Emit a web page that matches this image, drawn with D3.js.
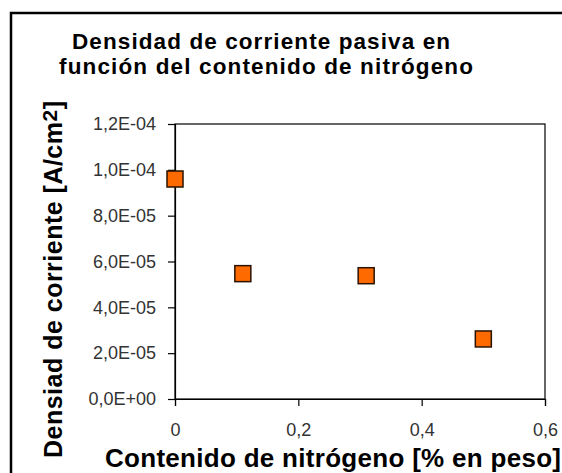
<!DOCTYPE html>
<html>
<head>
<meta charset="utf-8">
<script src="https://cdn.jsdelivr.net/npm/d3@7"></script>
<style>
  html, body { margin: 0; padding: 0; background: #fff; }
  text { font-family: "Liberation Sans", Arial, sans-serif; }
</style>
</head>
<body>
<div id="graph"></div>
<script>
// data
const nitrogen = [0, 0.11, 0.31, 0.5];
const density = [9.6e-5, 5.47e-5, 5.38e-5, 2.62e-5];
const xTicks = [0, 0.2, 0.4, 0.6];
const yTicks = [0, 2e-5, 4e-5, 6e-5, 8e-5, 1e-4, 1.2e-4];
const titleLines = ["Densidad de corriente pasiva en", "función del contenido de nitrógeno"];

window.addEventListener("DOMContentLoaded", main)

function main() {
    const W = 562, H = 473;
    const svg = d3.select("#graph").append("svg").attr("width", W).attr("height", H)

    // outer chart frame (runs off right and bottom)
    svg.append("rect")
        .attr("x", 11).attr("y", 13)
        .attr("width", W + 10).attr("height", H + 10)
        .attr("fill", "none").attr("stroke", "#000").attr("stroke-width", 2.5)

    const x = d3.scaleLinear().domain([0, 0.6]).range([175, 545]);
    const y = d3.scaleLinear().domain([0, 1.2e-4]).range([399, 124]);

    // plot area border
    svg.append("rect")
        .attr("x", x(0)).attr("y", y(1.2e-4))
        .attr("width", x(0.6) - x(0)).attr("height", y(0) - y(1.2e-4))
        .attr("fill", "none").attr("stroke", "#000").attr("stroke-width", 1.2)

    const fmtY = d => d === 0 ? "0,0E+00" : d3.format(".1e")(d)
        .replace(".", ",").replace(/e([+-])(\d)$/, "E$10$2").replace(/e/, "E");

    const yAxis = d3.axisLeft(y).tickValues(yTicks).tickSize(7).tickPadding(12).tickFormat(fmtY);
    const gy = svg.append("g").attr("transform", "translate(" + x(0) + ",0)").call(yAxis);

    const xAxis = d3.axisBottom(x).tickValues(xTicks).tickSize(7).tickPadding(17)
        .tickFormat(d => String(d).replace(".", ","));
    const gx = svg.append("g").attr("transform", "translate(0," + y(0) + ")").call(xAxis);

    [gx, gy].forEach(g => {
        g.select(".domain").attr("stroke", "#000").attr("stroke-width", 1.2);
        g.selectAll(".tick line").attr("stroke", "#000").attr("stroke-width", 1.2);
        g.selectAll(".tick text").attr("fill", "#333")
            .style("font-family", "'Liberation Sans', Arial, sans-serif")
            .style("font-size", "18px");
    });

    // markers
    const s = 16;
    svg.selectAll("rect.pt")
        .data(nitrogen)
        .enter()
        .append("rect")
        .attr("class", "pt")
        .attr("x", (d, i) => x(d) - s / 2)
        .attr("y", (d, i) => y(density[i]) - s / 2)
        .attr("width", s).attr("height", s)
        .attr("fill", "#ff6a00").attr("stroke", "#2a1200").attr("stroke-width", 1.5)

    // title
    const titlePos = [{ cx: 261, y: 48.5, len: 378 }, { cx: 266, y: 73.5, len: 414 }];
    svg.selectAll("text.title")
        .data(titleLines)
        .enter()
        .append("text")
        .attr("class", "title")
        .attr("x", (d, i) => titlePos[i].cx)
        .attr("y", (d, i) => titlePos[i].y)
        .attr("text-anchor", "middle")
        .attr("textLength", (d, i) => titlePos[i].len)
        .attr("lengthAdjust", "spacing")
        .style("font-size", "22.5px")
        .style("font-weight", "bold")
        .text(d => d);

    // axis titles
    svg.append("text")
        .attr("x", 333).attr("y", 466.5)
        .attr("text-anchor", "middle")
        .attr("textLength", 456)
        .attr("lengthAdjust", "spacing")
        .style("font-size", "26px")
        .style("font-weight", "bold")
        .text("Contenido de nitrógeno [% en peso]");

    const yl = svg.append("text")
        .attr("transform", "translate(62,279.5) rotate(-90)")
        .attr("text-anchor", "middle")
        .attr("textLength", 357)
        .attr("lengthAdjust", "spacing")
        .style("font-size", "25px")
        .style("font-weight", "bold");
    yl.append("tspan").text("Densiad de corriente [A/cm");
    yl.append("tspan").attr("dy", -5).style("font-size", "21px").text("2");
    yl.append("tspan").attr("dy", 5).text("]");
}
</script>
</body>
</html>
